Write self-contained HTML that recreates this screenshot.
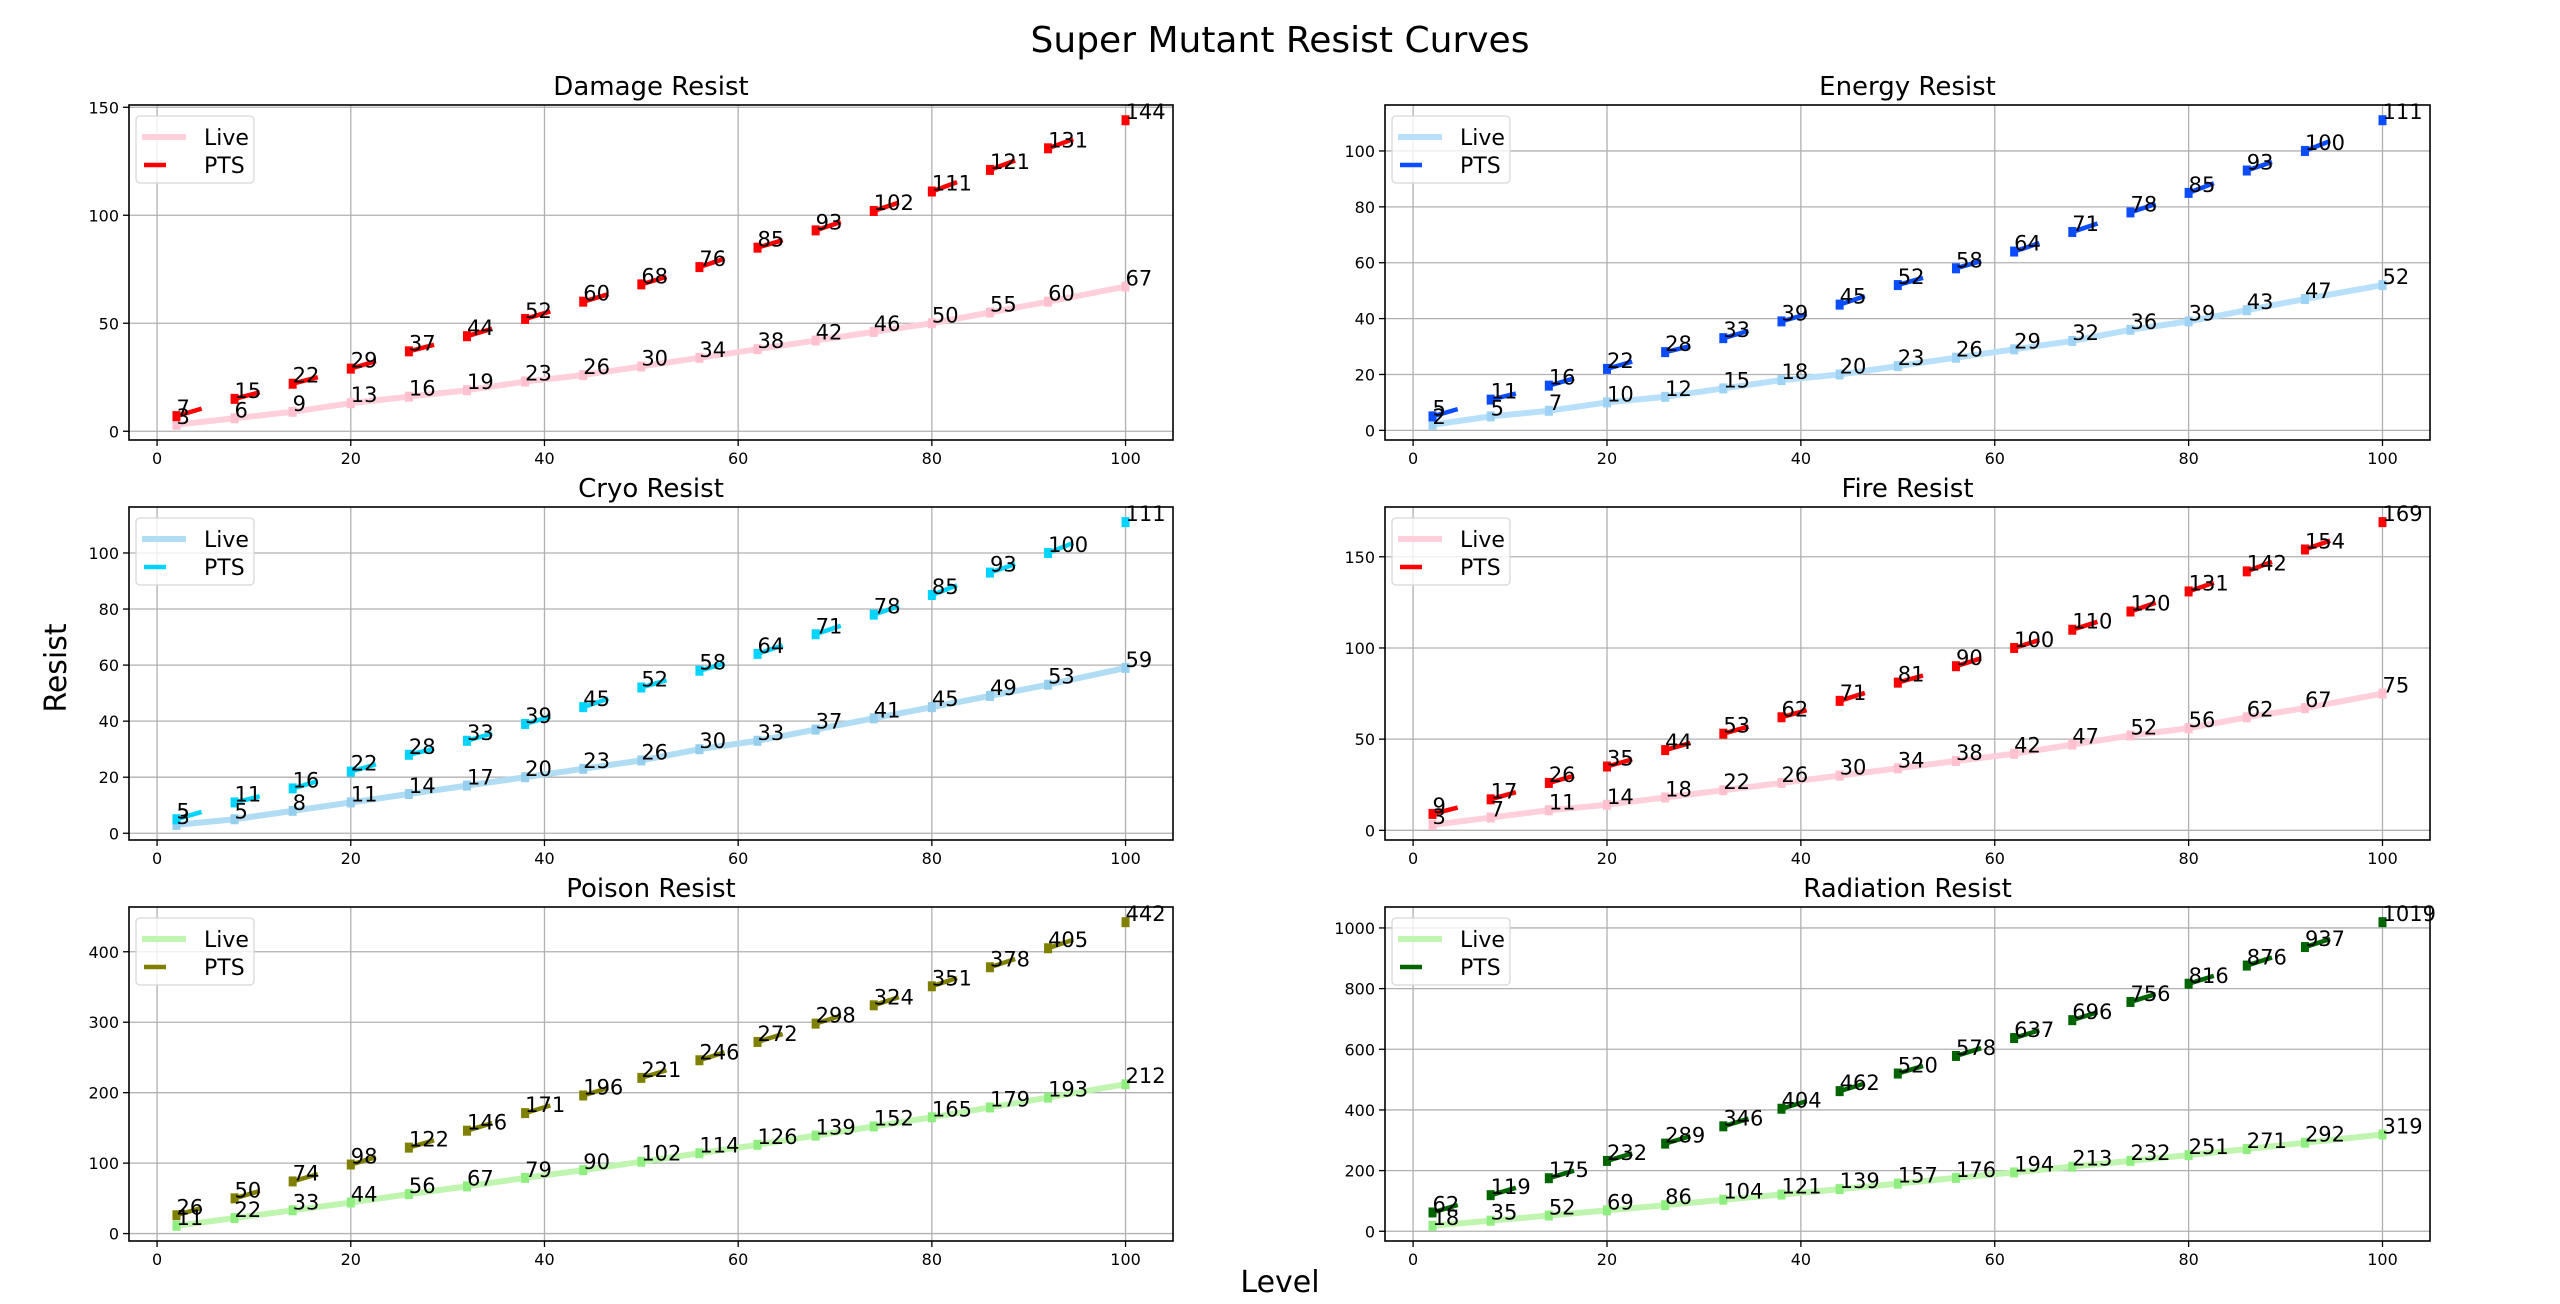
<!DOCTYPE html>
<html><head><meta charset="utf-8"><style>
html,body{margin:0;padding:0;background:#fff;}
svg{display:block;font-family:"DejaVu Sans","Liberation Sans",sans-serif;}
</style></head><body>
<svg id="fig" width="2560" height="1304" viewBox="0 0 2560 1304">
<text x="1280" y="52" font-size="36" text-anchor="middle">Super Mutant Resist Curves</text>
<text x="66" y="668" font-size="30" text-anchor="middle" transform="rotate(-90 66 668)">Resist</text>
<text x="1280" y="1292" font-size="30" text-anchor="middle">Level</text>
</svg>
<script>
const levels=[2,8,14,20,26,32,38,44,50,56,62,68,74,80,86,92,100];
const xTicks=[0,20,40,60,80,100];
const damageLive=[3,6,9,13,16,19,23,26,30,34,38,42,46,50,55,60,67];
const damagePts=[7,15,22,29,37,44,52,60,68,76,85,93,102,111,121,131,144];
const energyLive=[2,5,7,10,12,15,18,20,23,26,29,32,36,39,43,47,52];
const energyPts=[5,11,16,22,28,33,39,45,52,58,64,71,78,85,93,100,111];
const cryoLive=[3,5,8,11,14,17,20,23,26,30,33,37,41,45,49,53,59];
const cryoPts=[5,11,16,22,28,33,39,45,52,58,64,71,78,85,93,100,111];
const fireLive=[3,7,11,14,18,22,26,30,34,38,42,47,52,56,62,67,75];
const firePts=[9,17,26,35,44,53,62,71,81,90,100,110,120,131,142,154,169];
const poisonLive=[11,22,33,44,56,67,79,90,102,114,126,139,152,165,179,193,212];
const poisonPts=[26,50,74,98,122,146,171,196,221,246,272,298,324,351,378,405,442];
const radLive=[18,35,52,69,86,104,121,139,157,176,194,213,232,251,271,292,319];
const radPts=[62,119,175,232,289,346,404,462,520,578,637,696,756,816,876,937,1019];
const damageTicks=[0,50,100,150];
const energyTicks=[0,20,40,60,80,100];
const cryoTicks=[0,20,40,60,80,100];
const fireTicks=[0,50,100,150];
const poisonTicks=[0,100,200,300,400];
const radTicks=[0,200,400,600,800,1000];

const NS="http://www.w3.org/2000/svg";
const fig=document.getElementById('fig');
function mk(tag,attrs,parent){const e=document.createElementNS(NS,tag);for(const k in attrs)e.setAttribute(k,attrs[k]);(parent||fig).appendChild(e);return e;}

const panels=[
 {key:'damage',title:'Damage Resist',live:damageLive,pts:damagePts,ticks:damageTicks,lc:'#ffd0dc',lm:'#ffc0cf',pc:'#ff0000',x0:129,x1:1173,y0:105,y1:440},
 {key:'energy',title:'Energy Resist',live:energyLive,pts:energyPts,ticks:energyTicks,lc:'#b8e0fa',lm:'#9fd3f5',pc:'#0a4cff',x0:1385,x1:2430,y0:105,y1:440},
 {key:'cryo',title:'Cryo Resist',live:cryoLive,pts:cryoPts,ticks:cryoTicks,lc:'#b0dcf4',lm:'#96cfee',pc:'#00d4ff',x0:129,x1:1173,y0:507,y1:840},
 {key:'fire',title:'Fire Resist',live:fireLive,pts:firePts,ticks:fireTicks,lc:'#ffd0dc',lm:'#ffc0cf',pc:'#ff0000',x0:1385,x1:2430,y0:507,y1:840},
 {key:'poison',title:'Poison Resist',live:poisonLive,pts:poisonPts,ticks:poisonTicks,lc:'#c0f5b0',lm:'#90ee80',pc:'#808000',x0:129,x1:1173,y0:907,y1:1241},
 {key:'radiation',title:'Radiation Resist',live:radLive,pts:radPts,ticks:radTicks,lc:'#c0f5b0',lm:'#90ee80',pc:'#006400',x0:1385,x1:2430,y0:907,y1:1241}
];

panels.forEach(p=>{
 const g=mk('g',{});
 
 
 const all=p.live.concat(p.pts);
 const dmin=Math.min(...all),dmax=Math.max(...all),r=dmax-dmin;
 const ymin=dmin-0.05*r,ymax=dmax+0.05*r;
 const xmin=levels[0]-0.05*(levels[levels.length-1]-levels[0]),xmax=levels[levels.length-1]+0.05*(levels[levels.length-1]-levels[0]);
 const X=v=>p.x0+(v-xmin)/(xmax-xmin)*(p.x1-p.x0);
 const Y=v=>p.y1-(v-ymin)/(ymax-ymin)*(p.y1-p.y0);
 const t=mk('text',{x:(p.x0+p.x1)/2,y:p.y0-10,'font-size':26,'text-anchor':'middle'},g);t.textContent=p.title;
 
 
 xTicks.forEach(v=>{
  const gl=mk('line',{x1:X(v),x2:X(v),y1:p.y0,y2:p.y1,stroke:'#b0b0b0','stroke-width':1.3},g);
  
  
  mk('line',{x1:X(v),x2:X(v),y1:p.y1,y2:p.y1+6,stroke:'#000','stroke-width':1.3},g);
  const tl=mk('text',{x:X(v),y:p.y1+24,'font-size':16,'text-anchor':'middle'},g);tl.textContent=v;
  
  
 });
 p.ticks.forEach(v=>{
  const gl=mk('line',{x1:p.x0,x2:p.x1,y1:Y(v),y2:Y(v),stroke:'#b0b0b0','stroke-width':1.3},g);
  
  
  mk('line',{x1:p.x0-6,x2:p.x0,y1:Y(v),y2:Y(v),stroke:'#000','stroke-width':1.3},g);
  const tl=mk('text',{x:p.x0-10,y:Y(v)+6,'font-size':16,'text-anchor':'end'},g);tl.textContent=v;
  
  
 });
 const lp=mk('polyline',{points:levels.map((l,i)=>X(l)+','+Y(p.live[i])).join(' '),fill:'none',stroke:p.lc,'stroke-width':6,'stroke-linejoin':'round'},g);
 
 
 for(let i=0;i<levels.length-1;i++){
  const la=levels[i],lb=levels[i+1],va=p.pts[i],vb=p.pts[i+1];
  const ldash=Math.min(lb,la+2.6);
  const vdash=va+(vb-va)*(ldash-la)/(lb-la);
  const d=mk('line',{x1:X(la),y1:Y(va),x2:X(ldash),y2:Y(vdash),stroke:p.pc,'stroke-width':4.5},g);
  
  
 }
 levels.forEach((l,i)=>{
  const m1=mk('rect',{x:X(l)-4,y:Y(p.live[i])-5,width:8,height:10,fill:p.lm},g);
  
  
  const m2=mk('rect',{x:X(l)-4,y:Y(p.pts[i])-5,width:8,height:10,fill:p.pc},g);
  
  
 });
 levels.forEach((l,i)=>{
  const a=mk('text',{x:X(l),y:Y(p.live[i])-1,'font-size':21},g);a.textContent=p.live[i];
  
  
  const b=mk('text',{x:X(l),y:Y(p.pts[i])-1,'font-size':21},g);b.textContent=p.pts[i];
  
  
 });
 const fr=mk('rect',{x:p.x0,y:p.y0,width:p.x1-p.x0,height:p.y1-p.y0,fill:'none',stroke:'#000','stroke-width':1.6},g);
 
 
 const lg=mk('g',{},g);
 
 
 mk('rect',{x:p.x0+7,y:p.y0+11,width:118,height:67,rx:4,fill:'rgba(255,255,255,0.8)',stroke:'#d8d8d8','stroke-width':1.3},lg);
 mk('line',{x1:p.x0+13,x2:p.x0+57,y1:p.y0+32,y2:p.y0+32,stroke:p.lc,'stroke-width':6},lg);
 const t1=mk('text',{x:p.x0+75,y:p.y0+40,'font-size':22},lg);t1.textContent='Live';
 
 
 mk('line',{x1:p.x0+15,x2:p.x0+37,y1:p.y0+60,y2:p.y0+60,stroke:p.pc,'stroke-width':4.5},lg);
 const t2=mk('text',{x:p.x0+75,y:p.y0+68,'font-size':22},lg);t2.textContent='PTS';
 
 
});
</script>
</body></html>
